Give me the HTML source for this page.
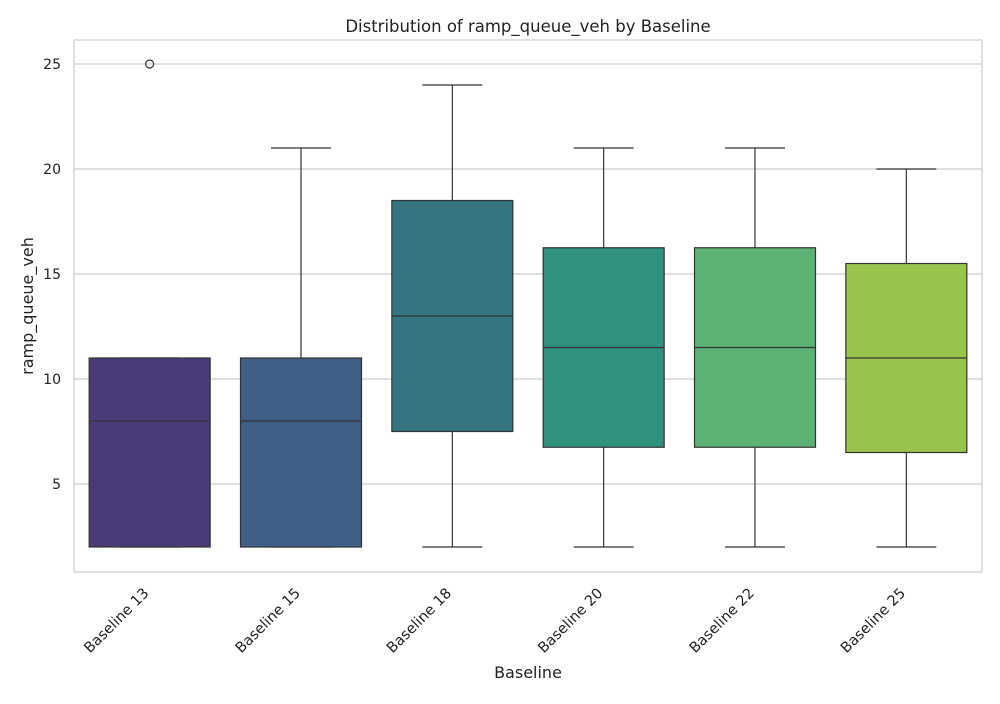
<!DOCTYPE html>
<html><head><meta charset="utf-8"><style>
body{margin:0;background:#fff;font-family:"DejaVu Sans","Liberation Sans",sans-serif}
</style></head><body>
<svg id="chart" width="1000" height="700" xmlns="http://www.w3.org/2000/svg" font-family="DejaVu Sans, Liberation Sans, sans-serif">
<rect width="1000" height="700" fill="#fff"/>
<text x="528" y="32" text-anchor="middle" font-size="16.5" fill="#222">Distribution of ramp_queue_veh by Baseline</text>
<g id="grid"></g><g id="boxes"></g><g id="axes"></g>
<rect x="74" y="40" width="908" height="532" fill="none" stroke="#ccc" stroke-width="1.2"/>
<text x="528" y="678" text-anchor="middle" font-size="16" fill="#222">Baseline</text>
<text transform="translate(33,306) rotate(-90)" text-anchor="middle" font-size="16" fill="#222">ramp_queue_veh</text>
</svg>
<script>
const categories=["Baseline 13","Baseline 15","Baseline 18","Baseline 20","Baseline 22","Baseline 25"];
const mins=[2,2,2,2,2,2];
const q1s=[2,2,7.5,6.75,6.75,6.5];
const medians=[8,8,13,11.5,11.5,11];
const q3s=[11,11,18.5,16.25,16.25,15.5];
const maxs=[11,21,24,21,21,20];
const outliers=[[25],[],[],[],[],[]];
const colors=["#4a3b78","#3f5f87","#337682","#30917f","#5bb274","#98c44c"];
const yTicks=[5,10,15,20,25];
const NS="http://www.w3.org/2000/svg";
const x0=74,x1=982;
const y=v=>64+(25-v)*21;
const band=(x1-x0)/categories.length;
const xc=i=>x0+band*(i+0.5);
function mk(t,a,p){const e=document.createElementNS(NS,t);for(const k in a)e.setAttribute(k,a[k]);p.appendChild(e);return e;}
const grid=document.getElementById('grid'),axes=document.getElementById('axes'),boxes=document.getElementById('boxes');
yTicks.forEach(v=>{
 const l=mk('line',{x1:x0,x2:x1,y1:y(v),y2:y(v),stroke:'#ccc','stroke-width':1.2},grid);
 
 
 const t=mk('text',{x:61,y:y(v)+5,'text-anchor':'end','font-size':14,fill:'#222'},axes);
 t.textContent=v;
 
 
});
categories.forEach((c,i)=>{
 const cx=xc(i),w=121,g=mk('g',{},boxes);
 
 
 const s={stroke:'#333','stroke-width':1.2};
 mk('line',Object.assign({x1:cx,x2:cx,y1:y(q1s[i]),y2:y(mins[i])},s),g);
 mk('line',Object.assign({x1:cx,x2:cx,y1:y(q3s[i]),y2:y(maxs[i])},s),g);
 mk('line',Object.assign({x1:cx-30,x2:cx+30,y1:y(mins[i]),y2:y(mins[i])},s),g);
 mk('line',Object.assign({x1:cx-30,x2:cx+30,y1:y(maxs[i]),y2:y(maxs[i])},s),g);
 mk('rect',Object.assign({x:cx-w/2,y:y(q3s[i]),width:w,height:Math.max(0.5,y(q1s[i])-y(q3s[i])),fill:colors[i]},s),g);
 mk('line',Object.assign({x1:cx-w/2,x2:cx+w/2,y1:y(medians[i]),y2:y(medians[i])},s),g);
 outliers[i].forEach(o=>{const p=mk('circle',{cx:cx,cy:y(o),r:4,fill:'none',stroke:'#333','stroke-width':1.2},g);
  
  });
 const ax=cx,ay=594;
 const t=mk('text',{x:ax,y:ay,'text-anchor':'end','font-size':14.5,fill:'#222',transform:`rotate(-45 ${ax} ${ay})`},axes);
 t.textContent=c;
 
 
});
</script>
</body></html>
